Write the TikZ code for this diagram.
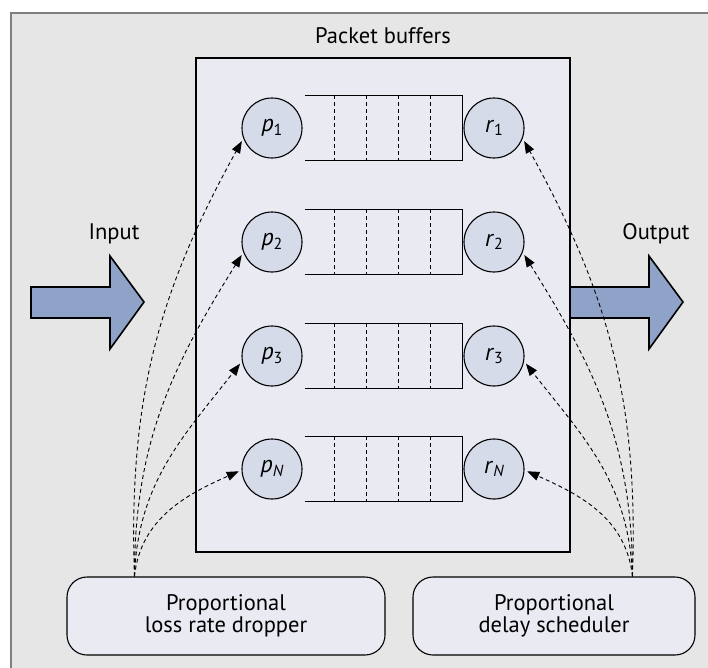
\documentclass[tikz,border=0pt]{standalone}
\usepackage{fontspec}
\setmainfont{PT Sans}
\usetikzlibrary{arrows.meta}
\definecolor{framegray}{HTML}{E6E6E6}
\definecolor{frameline}{HTML}{7F7F7F}
\definecolor{boxfill}{HTML}{E9EAF2}
\definecolor{circfill}{HTML}{D6DBE9}
\definecolor{arrowfill}{HTML}{8FA2C7}
\newcommand\qlabel[2]{\textit{#1}\raisebox{-0.3ex}{\fontsize{16}{16}\selectfont #2}}
\begin{document}
\begin{tikzpicture}[x=1pt,y=1pt,
  lbl/.style={font=\fontsize{22.5}{22}\selectfont, inner sep=0pt, anchor=base},
  qcirc/.style={circle,draw,line width=1.1pt,fill=circfill,minimum size=60pt,inner sep=0pt,font=\fontsize{24}{24}\selectfont},
  buf/.style={minimum width=157pt,minimum height=65pt,inner sep=0pt},
  bufline/.style={line width=1.2pt},
  slot/.style={line width=1pt,dash pattern=on 4pt off 3pt},
  ctl/.style={draw,line width=1.1pt,rounded corners=20pt,fill=boxfill,minimum height=78pt,align=center,inner sep=0pt,font=\fontsize{22.5}{22}\selectfont},
  sig/.style={line width=0.9pt,dash pattern=on 4pt off 3pt,-{Triangle[length=12pt,width=9pt]},shorten >=3pt},
  blockarrow/.style={draw,line width=1.6pt,fill=arrowfill,line join=miter}
]
\clip (0,0) rectangle (708,-667);
\fill[white] (0,0) rectangle (708,-667);
% outer frame
\fill[framegray] (11,-13) rectangle (720,-680);
\draw[frameline,line width=2pt] (11,-680) -- (11,-13) -- (720,-13);

% packet buffer box
\node[draw,line width=1.1pt,fill=boxfill,minimum width=374pt,minimum height=494pt,inner sep=0pt] (pb) at (383,-305) {};
\node[lbl] (pbl) at (383,-43) {Packet buffers};

% block arrows
\draw[blockarrow] (31,-287) -- (110,-287) -- (110,-256) -- (144,-302) -- (110,-349) -- (110,-318) -- (31,-318) -- cycle;
\draw[blockarrow] (570,-287) -- (649,-287) -- (649,-256) -- (683,-302) -- (649,-349) -- (649,-318) -- (570,-318) -- cycle;
\node[lbl] (inl) at (114,-239) {Input};
\node[lbl] (outl) at (656,-239) {Output};

% queues
\foreach \n/\y/\s in {1/128/1,2/242/2,3/356/3,N/469/\textit{N}}{
  \node[qcirc] (p\n) at (272,-\y) {\qlabel{p}{\s}};
  \node[qcirc] (r\n) at (494,-\y) {\qlabel{r}{\s}};
  \node[buf] (b\n) at (383.5,-\y) {};
  \draw[bufline] (b\n.north west) -- (b\n.north east) -- (b\n.south east) -- (b\n.south west);
  \foreach \xx in {30,62,94,126}{
    \draw[slot] ([xshift=\xx pt]b\n.north west) -- ([xshift=\xx pt]b\n.south west);
  }
}

% controllers
\node[ctl,minimum width=318pt] (ldrop) at (226,-616) {Proportional\\loss rate dropper};
\node[ctl,minimum width=282pt] (dsched) at (554,-616) {Proportional\\delay scheduler};
\coordinate (ls) at ([xshift=68pt]ldrop.north west);
\coordinate (rs) at ([xshift=220pt]dsched.north west);

% control signals
\draw[sig] (ls) to[out=92,in=241] (p1.200);
\draw[sig] (ls) to[out=90,in=238] (p2.200);
\draw[sig] (ls) to[out=88,in=232] (p3.190);
\draw[sig] (ls) to[out=84,in=204] (pN.182);
\draw[sig] (rs) to[out=88,in=299] (r1.340);
\draw[sig] (rs) to[out=90,in=302] (r2.340);
\draw[sig] (rs) to[out=92,in=308] (r3.350);
\draw[sig] (rs) to[out=96,in=336] (rN.358);
\end{tikzpicture}
\end{document}
